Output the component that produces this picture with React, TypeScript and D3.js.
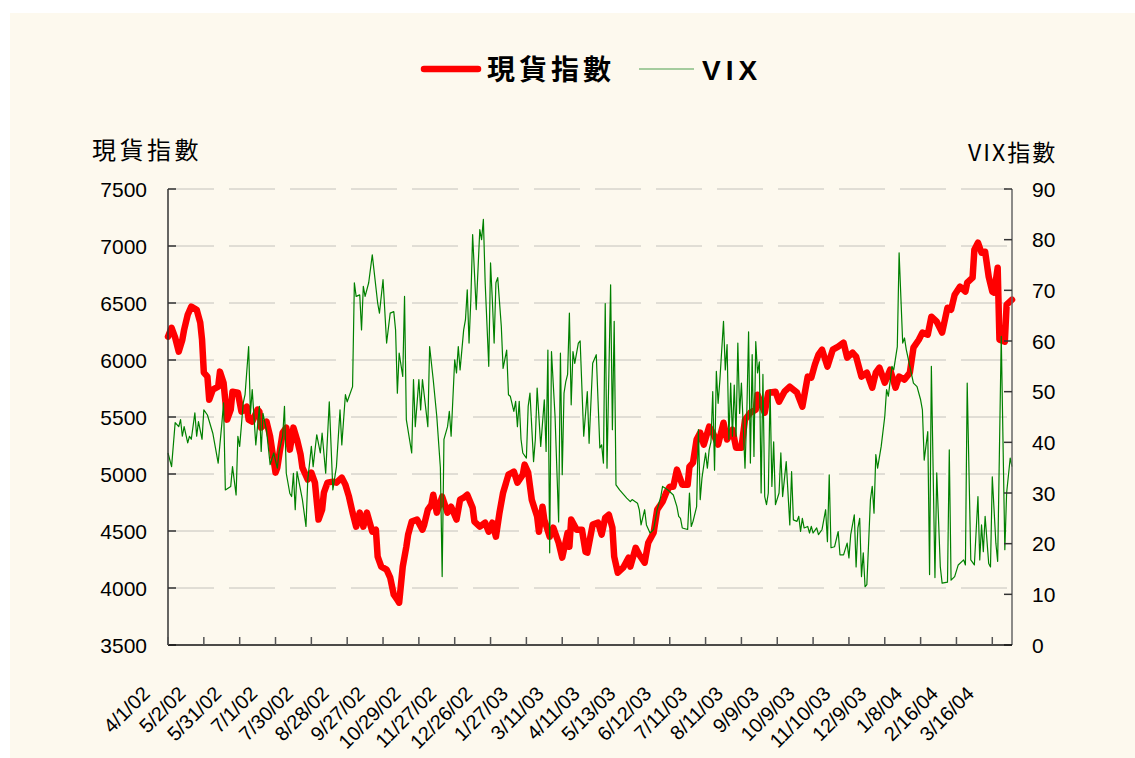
import { scaleLinear, line } from "d3";

// 台股現貨指數 vs VIX, x = trading-day index from 4/1/02
const tickLabels = [
    "4/1/02", "5/2/02", "5/31/02", "7/1/02", "7/30/02", "8/28/02", "9/27/02", "10/29/02",
    "11/27/02", "12/26/02", "1/27/03", "3/11/03", "4/11/03", "5/13/03", "6/12/03", "7/11/03",
    "8/11/03", "9/9/03", "10/9/03", "11/10/03", "12/9/03", "1/8/04", "2/16/04", "3/16/04",
];
const DAYS_PER_TICK = 20;
const LAST_DAY = 471;

const leftTicks = [3500, 4000, 4500, 5000, 5500, 6000, 6500, 7000, 7500];
const rightTicks = [0, 10, 20, 30, 40, 50, 60, 70, 80, 90];

// [day, value]
const spot: [number, number][] = [
    [0, 6204], [2, 6283], [4, 6196], [6, 6073], [8, 6178], [9, 6266], [11, 6397], [13, 6468],
    [16, 6441], [18, 6327], [19, 6178], [20, 5889], [22, 5854], [23, 5652], [25, 5740], [28, 5766],
    [29, 5898], [31, 5801], [33, 5477], [35, 5565], [36, 5722], [39, 5714], [41, 5547], [44, 5591],
    [45, 5477], [47, 5459], [50, 5565], [51, 5547], [52, 5407], [55, 5459], [57, 5328], [60, 5012],
    [61, 5056], [64, 5363], [66, 5407], [68, 5214], [70, 5407], [72, 5302], [74, 5170], [75, 5056],
    [78, 4951], [80, 5012], [82, 4924], [84, 4600], [86, 4687], [87, 4836], [89, 4924], [92, 4933],
    [94, 4924], [97, 4968], [99, 4906], [101, 4801], [103, 4661], [105, 4538], [107, 4661], [109, 4538],
    [111, 4661], [114, 4494], [116, 4512], [117, 4275], [119, 4187], [122, 4161], [124, 4091], [126, 3941],
    [128, 3897], [129, 3871], [131, 4187], [133, 4362], [134, 4468], [136, 4582], [139, 4600], [142, 4512],
    [143, 4556], [145, 4687], [147, 4731], [148, 4818], [150, 4661], [153, 4801], [156, 4661], [158, 4713],
    [161, 4600], [163, 4775], [165, 4792], [167, 4818], [170, 4705], [171, 4582], [174, 4538], [177, 4573],
    [179, 4494], [181, 4573], [183, 4450], [185, 4661], [187, 4836], [190, 4994], [193, 5021], [195, 4924],
    [198, 4994], [199, 5082], [201, 5012], [203, 4775], [206, 4626], [207, 4494], [209, 4713], [210, 4600],
    [213, 4450], [215, 4529], [218, 4397], [220, 4266], [223, 4485], [224, 4362], [225, 4600], [228, 4512],
    [231, 4512], [233, 4318], [234, 4310], [237, 4556], [240, 4573], [242, 4468], [244, 4617], [246, 4643],
    [248, 4529], [249, 4275], [251, 4134], [254, 4178], [257, 4266], [258, 4187], [261, 4353], [263, 4292],
    [266, 4222], [268, 4397], [271, 4485], [273, 4687], [276, 4757], [278, 4836], [280, 4889], [282, 4889],
    [284, 5038], [287, 4906], [290, 4906], [291, 5065], [293, 5100], [295, 5302], [297, 5363], [299, 5258],
    [301, 5363], [302, 5415], [304, 5363], [307, 5258], [310, 5450], [312, 5302], [315, 5389], [317, 5231],
    [320, 5231], [322, 5477], [325, 5538], [328, 5565], [329, 5696], [333, 5538], [335, 5714], [339, 5722],
    [341, 5635], [344, 5722], [347, 5766], [351, 5714], [354, 5591], [357, 5854], [359, 5845], [361, 5959],
    [363, 6047], [365, 6091], [368, 5942], [371, 6091], [374, 6117], [377, 6152], [379, 6021], [382, 6065],
    [384, 6030], [387, 5854], [390, 5889], [393, 5757], [395, 5889], [397, 5933], [400, 5801], [403, 5915],
    [406, 5757], [408, 5854], [411, 5828], [414, 5889], [416, 6108], [419, 6178], [421, 6240], [424, 6222],
    [426, 6380], [429, 6336], [432, 6240], [435, 6459], [437, 6441], [439, 6573], [442, 6644], [445, 6600],
    [446, 6678], [449, 6722], [450, 6967], [452, 7029], [454, 6941], [456, 6950], [458, 6731], [460, 6600],
    [461, 6591], [463, 6810], [464, 6178], [467, 6161], [468, 6485], [471, 6529],
];

const vix: [number, number][] = [
    [0, 37.9], [2, 35.2], [4, 43.9], [6, 43.1], [7, 44.5], [8, 41.2], [9, 43.1], [11, 39.9],
    [12, 41.2], [13, 40.6], [15, 45.8], [16, 41.2], [17, 44.1], [19, 40.6], [20, 46.4], [22, 45.4],
    [25, 41.8], [28, 35.9], [30, 43.5], [31, 47.8], [32, 30.6], [35, 31.3], [36, 35.2], [38, 29.6],
    [39, 41.2], [40, 39.2], [42, 47.8], [43, 49.4], [45, 58.9], [46, 45.7], [47, 50.4], [49, 39.5],
    [51, 47.1], [52, 38.2], [53, 45.7], [55, 42.3], [57, 35.6], [59, 37.9], [61, 34.9], [62, 38.2],
    [64, 41.2], [65, 47.1], [66, 33.9], [68, 29.9], [69, 29.3], [70, 33.9], [71, 26.7], [72, 34.2],
    [75, 28.7], [77, 23.4], [78, 32.6], [80, 39.2], [81, 35.2], [83, 41.5], [85, 37.9], [86, 41.8],
    [88, 33.9], [90, 48.0], [92, 30.6], [94, 35.2], [96, 46.4], [97, 39.5], [99, 49.4], [100, 48.0],
    [103, 51.0], [104, 71.5], [105, 68.8], [107, 69.1], [108, 62.2], [109, 70.8], [110, 68.8], [112, 71.5],
    [114, 77.0], [117, 67.5], [118, 65.5], [120, 72.1], [122, 59.6], [124, 65.5], [126, 65.8], [127, 62.2],
    [128, 49.7], [129, 57.6], [131, 53.0], [132, 68.8], [133, 44.5], [136, 37.9], [137, 52.4], [138, 43.1],
    [140, 52.4], [141, 46.4], [142, 52.4], [145, 43.1], [146, 58.9], [148, 52.4], [150, 45.1], [152, 35.0],
    [153, 13.5], [154, 40.6], [156, 43.1], [157, 46.1], [158, 41.2], [160, 56.3], [161, 53.7], [162, 58.9],
    [163, 54.3], [165, 62.2], [166, 64.2], [167, 70.1], [168, 59.6], [169, 68.1], [170, 81.0], [172, 66.2],
    [174, 82.0], [175, 80.0], [176, 84.0], [177, 71.5], [179, 55.0], [180, 75.4], [181, 68.1], [182, 59.6],
    [183, 71.5], [184, 72.5], [186, 62.9], [187, 54.6], [189, 58.2], [190, 49.4], [191, 49.1], [193, 46.1],
    [194, 48.1], [195, 43.1], [196, 48.1], [197, 40.6], [198, 37.9], [200, 36.9], [201, 47.1], [202, 49.7],
    [204, 36.2], [205, 40.6], [206, 50.7], [208, 39.2], [210, 48.4], [211, 38.2], [212, 58.2], [213, 18.2],
    [214, 57.9], [216, 45.1], [218, 24.3], [219, 57.6], [220, 33.6], [221, 49.7], [222, 52.0], [223, 53.4],
    [224, 65.5], [225, 47.4], [226, 57.9], [227, 55.6], [229, 59.6], [230, 60.0], [232, 41.2], [234, 50.0],
    [235, 39.8], [237, 55.6], [239, 57.3], [240, 48.1], [241, 38.9], [242, 39.5], [243, 35.9], [244, 67.4],
    [245, 34.9], [247, 71.1], [248, 42.5], [249, 63.9], [250, 31.6], [252, 30.6], [256, 29.0], [258, 28.3],
    [259, 28.7], [262, 28.0], [263, 26.7], [264, 23.7], [266, 26.7], [267, 23.7], [269, 22.1], [271, 22.8],
    [273, 26.7], [275, 29.3], [276, 31.3], [279, 30.6], [282, 29.6], [284, 27.3], [285, 25.4], [286, 25.0],
    [287, 23.1], [290, 22.8], [291, 30.0], [292, 23.4], [293, 24.4], [295, 27.3], [296, 42.5], [297, 28.7],
    [298, 33.0], [300, 37.9], [301, 34.9], [302, 38.5], [303, 40.1], [304, 50.0], [305, 34.5], [306, 54.0],
    [307, 47.7], [308, 52.4], [310, 63.9], [311, 54.3], [312, 59.3], [313, 40.6], [314, 51.7], [315, 41.2],
    [316, 51.3], [317, 41.2], [318, 59.6], [319, 45.7], [320, 51.7], [322, 34.9], [323, 45.7], [324, 61.8],
    [325, 35.9], [326, 57.3], [327, 37.2], [328, 59.9], [329, 53.7], [330, 55.9], [331, 30.0], [332, 53.4],
    [333, 29.3], [334, 27.7], [335, 30.0], [336, 50.4], [337, 31.3], [338, 40.1], [339, 27.7], [341, 30.0],
    [342, 37.9], [343, 29.3], [345, 36.2], [347, 23.7], [348, 34.2], [349, 24.7], [351, 24.4], [352, 25.4],
    [353, 22.4], [354, 25.0], [355, 23.1], [357, 23.4], [358, 22.1], [359, 23.4], [360, 22.1], [362, 23.1],
    [363, 21.8], [365, 22.8], [367, 26.7], [368, 20.4], [369, 33.6], [370, 19.2], [372, 19.4], [374, 22.4],
    [375, 17.8], [377, 17.8], [379, 20.1], [380, 17.2], [381, 21.8], [383, 25.7], [384, 15.4], [385, 23.1],
    [386, 25.0], [387, 13.5], [388, 18.2], [389, 11.5], [390, 11.9], [392, 28.7], [393, 31.3], [394, 26.0],
    [395, 37.6], [396, 34.9], [398, 39.2], [400, 45.1], [401, 50.4], [402, 49.1], [404, 55.0], [405, 54.3],
    [407, 58.9], [408, 77.4], [410, 59.6], [411, 60.6], [412, 58.3], [414, 55.0], [416, 51.7], [418, 51.0],
    [420, 48.4], [421, 46.4], [422, 36.5], [424, 42.1], [425, 13.9], [426, 55.0], [428, 13.3], [429, 34.0],
    [431, 15.4], [432, 12.2], [435, 12.4], [436, 38.5], [437, 12.8], [439, 13.5], [441, 15.8], [444, 16.8],
    [445, 15.8], [446, 51.7], [448, 16.8], [450, 15.8], [452, 29.3], [453, 16.8], [454, 23.7], [455, 18.4],
    [456, 25.4], [458, 16.1], [459, 15.4], [460, 33.2], [462, 20.1], [463, 16.5], [465, 60.9], [467, 18.8],
    [468, 30.0], [470, 36.9], [471, 35.2],
];

const W = 1135;
const H = 758;
const m = { left: 168, right: 1012, top: 189, bottom: 645 };
const latin = "'Liberation Sans', Arial, sans-serif";
const cjk = "'Noto Sans CJK TC', 'Liberation Sans', sans-serif";

export default function App() {
    const x = scaleLinear().domain([0, LAST_DAY]).range([m.left, m.right]);
    const yL = scaleLinear().domain([3500, 7500]).range([m.bottom, m.top]);
    const yR = scaleLinear().domain([0, 90]).range([m.bottom, m.top]);

    const spotLine = line<[number, number]>()
        .x((d) => x(d[0]))
        .y((d) => yL(d[1]));
    const vixLine = line<[number, number]>()
        .x((d) => x(d[0]))
        .y((d) => yR(d[1]));

    return (
        <div style={{ position: "absolute", left: 0, top: 0 }}>
            <svg width={W} height={H} style={{ display: "block" }}>
                <rect x={0} y={0} width={W} height={H} fill="#ffffff" />
                <rect x={10} y={13} width={W - 10} height={H - 13} fill="#fdf9ee" />

                {/* legend */}
                <line x1={424} x2={478} y1={69} y2={69} stroke="#ff0000" strokeWidth={6.5} strokeLinecap="round" />
                <text x={487} y={80} fontFamily={cjk} fontWeight="bold" fontSize={28} letterSpacing={4} fill="#000">
                    現貨指數
                </text>
                <line x1={639} x2={694} y1={69} y2={69} stroke="#4f9f4f" strokeWidth={1.2} />
                <text x={702} y={80} fontFamily={latin} fontWeight="bold" fontSize={28} letterSpacing={5} fill="#000">
                    VIX
                </text>

                {/* axis titles */}
                <text x={92} y={159} fontFamily={cjk} fontSize={24} letterSpacing={3.5} fill="#000">
                    現貨指數
                </text>
                <text x={968} y={161} fontFamily={cjk} fontSize={23} letterSpacing={2} fill="#000">
                    VIX指數
                </text>

                {/* grid */}
                {leftTicks.slice(1).map((t) => (
                    <line
                        key={t}
                        x1={m.left}
                        x2={m.right}
                        y1={yL(t)}
                        y2={yL(t)}
                        stroke="#c4c2bc"
                        strokeWidth={1}
                        strokeDasharray="46 15"
                    />
                ))}

                <path d={spotLine(spot) ?? ""} fill="none" stroke="#ff0000" strokeWidth={6.5} strokeLinejoin="round" strokeLinecap="round" />
                <path d={vixLine(vix) ?? ""} fill="none" stroke="#008000" strokeWidth={1.2} strokeLinejoin="round" />

                {/* left axis */}
                <line x1={m.left} x2={m.left} y1={m.top} y2={m.bottom} stroke="#333" strokeWidth={1.5} />
                {leftTicks.map((t) => (
                    <g key={t}>
                        <line x1={m.left} x2={m.left + 8} y1={yL(t)} y2={yL(t)} stroke="#333" strokeWidth={1.5} />
                        <text x={147} y={yL(t)} dy="0.36em" textAnchor="end" fontFamily={latin} fontSize={21} fill="#000">
                            {t}
                        </text>
                    </g>
                ))}

                {/* right axis */}
                <line x1={m.right} x2={m.right} y1={m.top} y2={m.bottom} stroke="#666" strokeWidth={1.5} />
                {rightTicks.map((t) => (
                    <g key={t}>
                        <line x1={m.right - 8} x2={m.right} y1={yR(t)} y2={yR(t)} stroke="#333" strokeWidth={1.5} />
                        <text x={1032} y={yR(t)} dy="0.36em" fontFamily={latin} fontSize={21} fill="#000">
                            {t}
                        </text>
                    </g>
                ))}

                {/* bottom axis */}
                <line x1={m.left} x2={m.right} y1={m.bottom} y2={m.bottom} stroke="#111" strokeWidth={1.5} />
                {tickLabels.map((lab, i) => {
                    const tx = x(i * DAYS_PER_TICK);
                    return (
                        <g key={lab}>
                            <line x1={tx} x2={tx} y1={m.bottom - 8} y2={m.bottom} stroke="#555" strokeWidth={1.5} />
                            <text
                                transform={`translate(${tx - 17},${695}) rotate(-45)`}
                                textAnchor="end"
                                fontFamily={latin}
                                fontSize={20}
                                fill="#000"
                            >
                                {lab}
                            </text>
                        </g>
                    );
                })}
            </svg>
        </div>
    );
}
